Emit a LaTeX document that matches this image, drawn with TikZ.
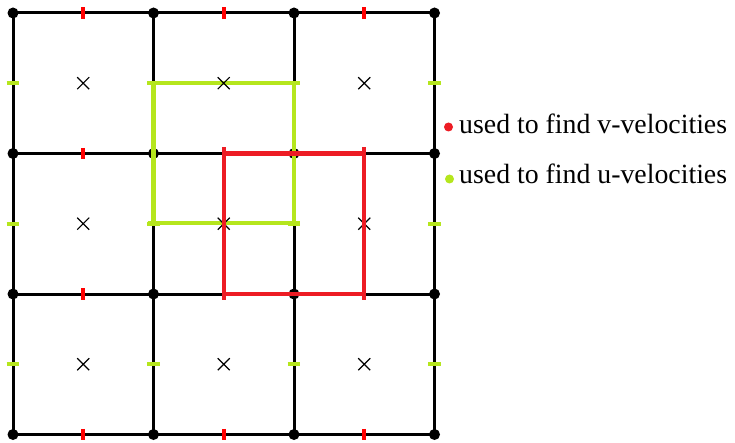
\documentclass[tikz,border=0pt]{standalone}
\usepackage{fontspec}
\setmainfont{Liberation Serif}
\definecolor{vred}{HTML}{ED1C24}
\definecolor{tred}{HTML}{FF0000}
\definecolor{ugreen}{HTML}{B5E61D}
\begin{document}
\begin{tikzpicture}[x=1pt,y=-1pt,
  gridline/.style={black,line width=3pt},
  vtick/.style={tred,line width=3.8pt},
  utick/.style={ugreen,line width=3.8pt},
  gridpt/.style={circle,fill=black,inner sep=0pt,minimum size=11pt},
  crossmark/.style={black,line width=1.2pt},
  vbox/.style={vred,line width=4.5pt},
  ubox/.style={ugreen,line width=4.5pt},
  legtext/.style={font=\fontsize{27.8}{31}\selectfont,anchor=base west,inner sep=0pt},
  legdot/.style={circle,inner sep=0pt,minimum size=9pt}]
\useasboundingbox (0,0) rectangle (735,443);
% grid lines
\foreach \p in {13,153.5,294,434.5}{
  \draw[gridline] (\p,13) -- (\p,434.5);
  \draw[gridline] (13,\p) -- (434.5,\p);
}
% ticks
\foreach \p in {13,153.5,294,434.5}{
  \foreach \m in {83.2,223.7,364.2}{
    \draw[vtick] (\m,\p-5.7) -- (\m,\p+5.7);
    \draw[utick] (\p-6.3,\m) -- (\p+6.3,\m);
  }
}
% grid points
\foreach \i/\xx in {0/13,1/153.5,2/294,3/434.5}{
  \foreach \j/\yy in {0/13,1/153.5,2/294,3/434.5}{
    \node[gridpt] (g\i\j) at (\xx,\yy) {};
  }
}
% u box
\draw[ubox] (147.5,83.2) -- (299.5,83.2);
\draw[ubox] (147.5,223.2) -- (299.5,223.2);
\draw[ubox] (153.5,83.2) -- (153.5,223.2);
\draw[ubox] (294,83.2) -- (294,223.2);
% crosses
\foreach \m in {83.2,223.7,364.2}{
  \foreach \n in {83.2,223.7,364.2}{
    \draw[crossmark] (\m-6,\n-6) -- (\m+6,\n+6) (\m-6,\n+6) -- (\m+6,\n-6);
  }
}
% v box
\draw[vbox] (224,147.5) -- (224,299.5);
\draw[vbox] (364,147.5) -- (364,299.5);
\draw[vbox] (224,153.5) -- (364,153.5);
\draw[vbox] (224,294) -- (364,294);
% legend
\node[legdot,fill=vred] (dv) at (448.5,127) {};
\node[legtext] (tv) at (459,133.3) {used to find v-velocities};
\node[legdot,fill=ugreen] (du) at (449.5,179) {};
\node[legtext] (tu) at (459,183.5) {used to find u-velocities};
\end{tikzpicture}
\end{document}
